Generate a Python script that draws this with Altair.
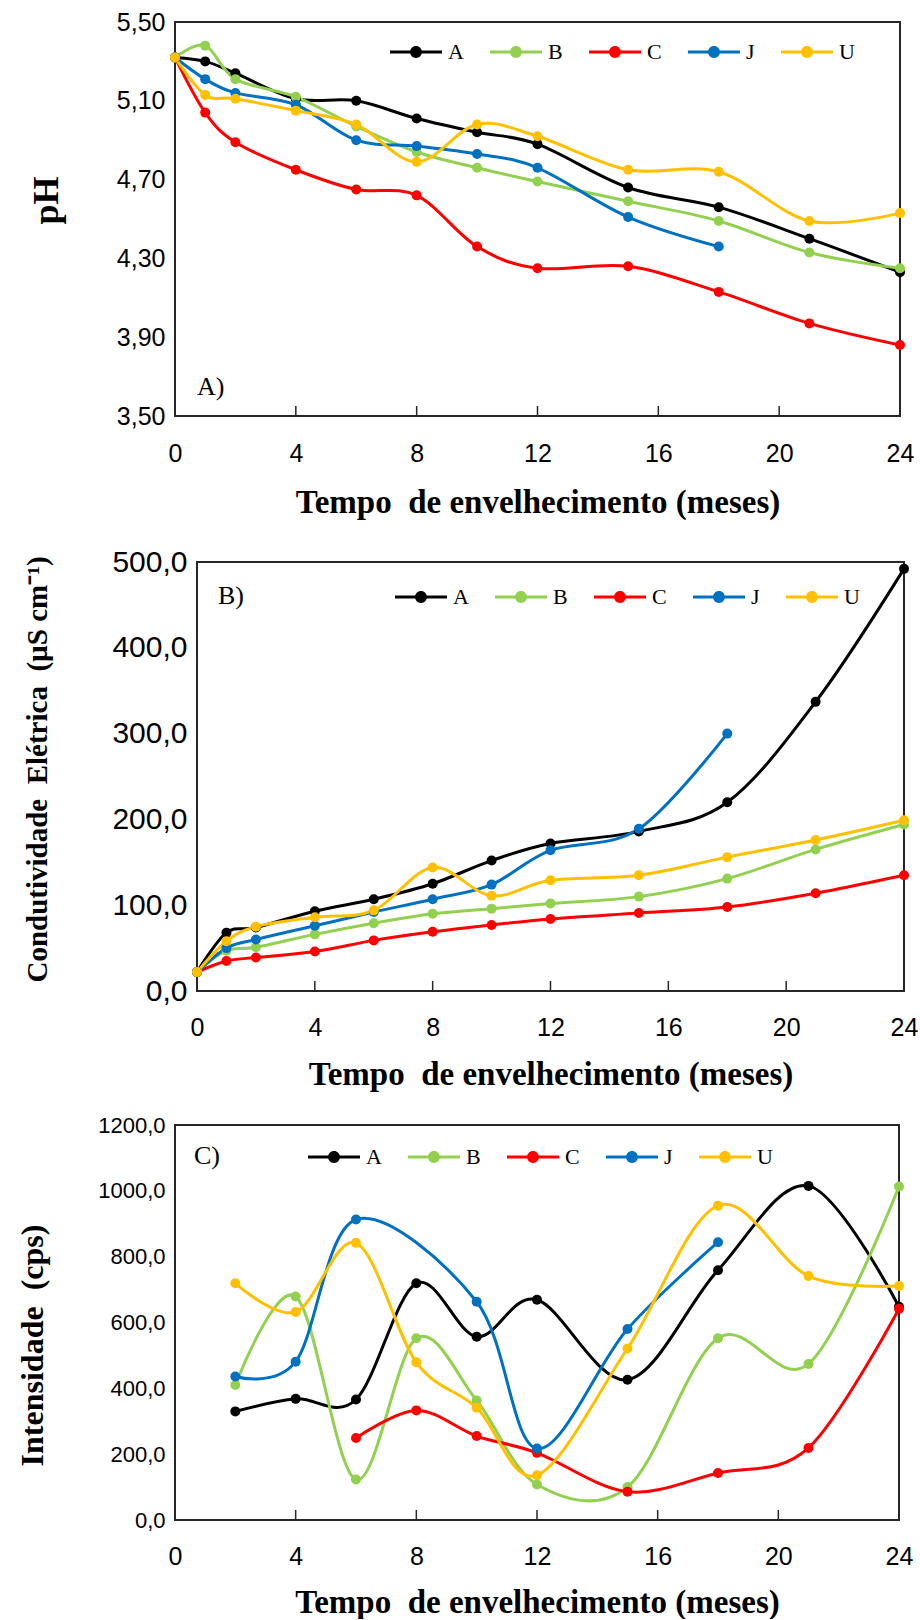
import altair as alt
import pandas as pd

series = ["A", "B", "C", "J", "U"]
colors = ["#000000", "#92D050", "#FF0000", "#0070C0", "#FFC000"]

months_ab = [0, 1, 2, 4, 6, 8, 10, 12, 15, 18, 21, 24]
ph_A = [5.32, 5.30, 5.24, 5.11, 5.10, 5.01, 4.94, 4.88, 4.66, 4.56, 4.40, 4.23]
ph_B = [5.32, 5.38, 5.21, 5.12, 4.97, 4.84, 4.76, 4.69, 4.59, 4.49, 4.33, 4.25]
ph_C = [5.32, 5.04, 4.89, 4.75, 4.65, 4.62, 4.36, 4.25, 4.26, 4.13, 3.97, 3.86]
ph_J = [5.32, 5.21, 5.14, 5.08, 4.90, 4.87, 4.83, 4.76, 4.51, 4.36, None, None]
ph_U = [5.32, 5.13, 5.11, 5.05, 4.98, 4.79, 4.98, 4.92, 4.75, 4.74, 4.49, 4.53]

ce_A = [22, 68, 74, 93, 107, 125, 152, 172, 186, 220, 337, 492]
ce_B = [22, 47, 51, 66, 79, 90, 96, 102, 110, 131, 165, 194]
ce_C = [22, 35, 39, 46, 59, 69, 77, 84, 91, 98, 114, 135]
ce_J = [22, 50, 60, 76, 92, 107, 124, 164, 189, 300, None, None]
ce_U = [22, 58, 75, 86, 94, 144, 111, 129, 135, 156, 176, 199]

months_c = [2, 4, 6, 8, 10, 12, 15, 18, 21, 24]
int_A = [330, 368, 366, 719, 557, 669, 426, 759, 1015, 648]
int_B = [410, 679, 123, 552, 363, 108, 100, 552, 474, 1013]
int_C = [None, None, 249, 333, 255, 204, 86, 143, 219, 642]
int_J = [436, 481, 913, None, 663, 217, 580, 844, None, None]
int_U = [719, 632, 842, 479, 341, 136, 521, 955, 741, 711]

x_ticks = [0, 4, 8, 12, 16, 20, 24]
inner_ticks = [4, 8, 12, 16, 20]
ph_ticks = [3.5, 3.9, 4.3, 4.7, 5.1, 5.5]
ce_ticks = [0, 100, 200, 300, 400, 500]
int_ticks = [0, 200, 400, 600, 800, 1000, 1200]

XTITLE = "Tempo\u00a0 de envelhecimento (meses)"
SERIF = "Liberation Serif"
SANS = "Liberation Sans"

LEG_PATH = ("M-1,-0.06L1,-0.06L1,0.06L-1,0.06Z "
            "M0.23,0A0.23,0.23 0 1,1 -0.23,0A0.23,0.23 0 1,1 0.23,0Z")


def long_df(months, data):
    rows = []
    for s, vals in zip(series, data):
        for m, v in zip(months, vals):
            if v is not None:
                rows.append({"m": m, "s": s, "v": v})
    return pd.DataFrame(rows)


def make_panel(df, ydom, yticks, ydec, ytitle, ytitle_size, ytitle_x, ytitle_y,
               area_w, area_h, xr, yr, y_off, x_off, ylab_size, lab_pad_x,
               xtitle_y, leg_x, leg_y, tag, tag_x, tag_y):
    xs = alt.Scale(domain=[0, 24], range=xr, nice=False, zero=False)
    ys = alt.Scale(domain=ydom, range=yr, nice=False, zero=False)
    xaxis = alt.Axis(values=x_ticks, title=XTITLE, domain=False, ticks=False,
                     tickSize=0, grid=False, labelFont=SANS, labelFontSize=25,
                     labelBaseline="middle", labelPadding=lab_pad_x, labelColor="#000",
                     labelFlush=False, offset=x_off, titleFont=SERIF,
                     titleFontWeight="bold", titleFontSize=33, titleColor="#000",
                     titleBaseline="middle", titleY=xtitle_y)
    yaxis = alt.Axis(values=yticks, title=ytitle, domain=False, ticks=False,
                     tickSize=0, grid=False, labelFont=SANS, labelFontSize=ylab_size,
                     labelPadding=10, labelColor="#000", labelFlush=False,
                     labelExpr=f"replace(format(datum.value, '.{ydec}f'), '.', ',')",
                     offset=y_off, titleFont=SERIF, titleFontWeight="bold",
                     titleFontSize=ytitle_size, titleColor="#000", titleAngle=270,
                     titleBaseline="middle", titleAlign="center",
                     titleX=ytitle_x, titleY=ytitle_y)
    legend = alt.Legend(
        orient="none", legendX=leg_x, legendY=leg_y, direction="horizontal",
        title=None, symbolType=LEG_PATH, symbolSize=2704, symbolStrokeWidth=0,
        labelFont=SERIF, labelFontSize=22, labelColor="#000", labelOffset=6,
        columnPadding=26, padding=0)
    cscale = alt.Scale(domain=series, range=colors)

    frame_df = pd.DataFrame({"m": [0], "x1": [24], "v": [ydom[0]], "y1": [ydom[1]]})
    frame = alt.Chart(frame_df).mark_rect(fillOpacity=0, stroke="#262626",
                                          strokeWidth=2).encode(
        x=alt.X("m:Q", scale=xs, axis=xaxis), x2="x1:Q",
        y=alt.Y("v:Q", scale=ys, axis=yaxis), y2="y1:Q")

    tick_df = pd.DataFrame({"m": inner_ticks, "v": [ydom[0]] * len(inner_ticks)})
    ticks = alt.Chart(tick_df).mark_rule(color="#262626", strokeWidth=1.5).encode(
        x=alt.X("m:Q", scale=xs, axis=xaxis),
        y=alt.Y("v:Q", scale=ys, axis=yaxis),
        y2=alt.value(yr[0] - 10))

    base = alt.Chart(df)
    lines = base.mark_line(interpolate="cardinal", strokeWidth=3).encode(
        x=alt.X("m:Q", scale=xs, axis=xaxis),
        y=alt.Y("v:Q", scale=ys, axis=yaxis),
        color=alt.Color("s:N", scale=cscale, legend=legend),
        detail="s:N")
    points = base.mark_point(filled=True, size=100, opacity=1).encode(
        x=alt.X("m:Q", scale=xs, axis=xaxis),
        y=alt.Y("v:Q", scale=ys, axis=yaxis),
        color=alt.Color("s:N", scale=cscale, legend=legend))

    tag_txt = alt.Chart(pd.DataFrame({"t": [tag]})).mark_text(
        align="left", baseline="middle", font=SERIF, fontSize=26, color="#000").encode(
        x=alt.value(tag_x), y=alt.value(tag_y), text="t:N")

    return alt.layer(frame, ticks, lines, points, tag_txt).properties(
        width=area_w, height=area_h)


pA = make_panel(long_df(months_ab, [ph_A, ph_B, ph_C, ph_J, ph_U]),
                [3.5, 5.5], ph_ticks, 2, "pH", 36, -129, 178,
                725, 406, [0, 725], [394, 0], 0, -12, 25, 37, 86,
                215, 4, "A)", 22, 365)
pB = make_panel(long_df(months_ab, [ce_A, ce_B, ce_C, ce_J, ce_U]),
                [0, 500], ce_ticks, 1,
                "Condutividade\u00a0 Elétrica\u00a0 (µS cm⁻¹)", 29, -160, 207,
                729, 429, [22, 729], [429, 0], -22, 0, 30, 36, 83,
                220, 9, "B)", 43, 34)
pC = make_panel(long_df(months_c, [int_A, int_B, int_C, int_J, int_U]),
                [0, 1200], int_ticks, 1, "Intensidade\u00a0 (cps)", 32, -143, 220,
                724, 395, [0, 724], [395, 0], 0, 0, 22, 36, 82,
                133, 6, "C)", 19, 31)

chart = alt.vconcat(pA, pB, pC, spacing=134, bounds="flush").resolve_scale(
    color="independent", x="independent", y="independent").resolve_legend(
    color="independent").properties(
    padding={"left": 16, "top": 10, "right": 0, "bottom": 0},
    background="white").configure_view(strokeWidth=0)

chart.save("out.html", embed_options={"renderer": "svg", "actions": False})
